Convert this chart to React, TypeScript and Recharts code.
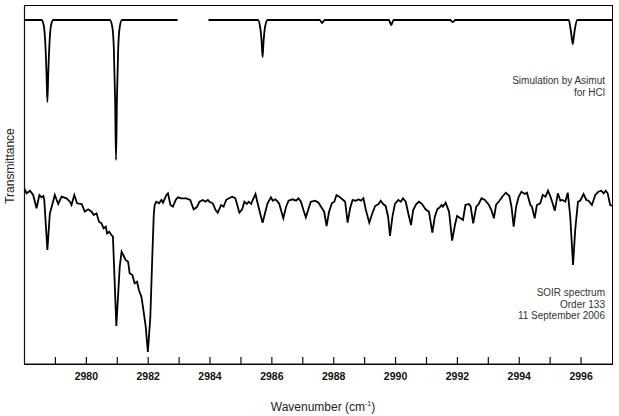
import React from "react";
import { LineChart, Line, XAxis, YAxis } from "recharts";

// Simulation by Asimut for HCl (relative transmittance, arbitrary units)
const simWavenumber = [
  2978.0, 2978.55, 2978.62, 2978.67, 2978.71, 2978.74, 2978.77, 2978.81, 2978.86, 2978.93,
  2980.76, 2980.84, 2980.89, 2980.93, 2980.96, 2980.99, 2981.03, 2981.08, 2981.15,
  2982.95, 2983.45, 2983.95,
  2985.55, 2985.62, 2985.67, 2985.7, 2985.73, 2985.78, 2985.86,
  2987.54, 2987.6, 2987.62, 2987.65, 2987.71,
  2989.78, 2989.83, 2989.86, 2989.89, 2989.94,
  2991.77, 2991.82, 2991.85, 2991.88, 2991.93,
  2995.6, 2995.66, 2995.7, 2995.73, 2995.76, 2995.8, 2995.88,
  2997.0,
];
const simTransmittance: (number | null)[] = [
  344, 344, 339, 322, 292, 262, 292, 322, 339, 344,
  344, 337, 315, 265, 204, 265, 315, 337, 344,
  344, null, 344,
  344, 337, 322, 307, 322, 337, 344,
  344, 342, 341, 342, 344,
  344, 341, 339, 341, 344,
  344, 342.5, 342, 342.5, 344,
  344, 335, 326, 320, 326, 335, 344,
  344,
];

// SOIR spectrum, Order 133, 11 September 2006
const soirWavenumber = [
  2978.0, 2978.07, 2978.18, 2978.28, 2978.39, 2978.48, 2978.55, 2978.61, 2978.64, 2978.74,
  2978.82, 2978.88, 2978.98, 2979.09, 2979.2, 2979.36, 2979.47, 2979.52, 2979.61, 2979.7,
  2979.85, 2979.95, 2980.06, 2980.17, 2980.24, 2980.33, 2980.41, 2980.49, 2980.56, 2980.63,
  2980.67, 2980.74, 2980.81, 2980.86, 2980.97, 2981.08, 2981.14, 2981.21, 2981.27, 2981.35,
  2981.4, 2981.49, 2981.56, 2981.64, 2981.7, 2981.78, 2981.83, 2981.92, 2981.99, 2982.07,
  2982.14, 2982.18, 2982.21, 2982.26, 2982.35, 2982.43, 2982.48, 2982.59, 2982.64, 2982.72,
  2982.8, 2982.89, 2982.96, 2983.07, 2983.23, 2983.36, 2983.47, 2983.57, 2983.66, 2983.77,
  2983.85, 2983.93, 2983.98, 2984.09, 2984.18, 2984.25, 2984.36, 2984.44, 2984.52, 2984.61,
  2984.72, 2984.82, 2984.95, 2985.04, 2985.11, 2985.19, 2985.25, 2985.33, 2985.38, 2985.47,
  2985.54, 2985.62, 2985.7, 2985.79, 2985.86, 2985.97, 2986.03, 2986.11, 2986.19, 2986.24,
  2986.37, 2986.46, 2986.54, 2986.67, 2986.78, 2986.86, 2986.94, 2987.02, 2987.1, 2987.19,
  2987.26, 2987.4, 2987.51, 2987.59, 2987.69, 2987.77, 2987.85, 2987.94, 2988.02, 2988.09,
  2988.18, 2988.28, 2988.37, 2988.45, 2988.53, 2988.61, 2988.72, 2988.8, 2988.88, 2988.96,
  2989.04, 2989.15, 2989.25, 2989.34, 2989.45, 2989.52, 2989.6, 2989.68, 2989.76, 2989.82,
  2989.9, 2989.98, 2990.09, 2990.17, 2990.24, 2990.33, 2990.41, 2990.5, 2990.57, 2990.67,
  2990.76, 2990.86, 2990.97, 2991.08, 2991.19, 2991.27, 2991.35, 2991.43, 2991.49, 2991.53,
  2991.62, 2991.73, 2991.83, 2991.92, 2991.99, 2992.1, 2992.18, 2992.26, 2992.37, 2992.43,
  2992.51, 2992.61, 2992.69, 2992.78, 2992.89, 2993.02, 2993.1, 2993.18, 2993.25, 2993.36,
  2993.47, 2993.57, 2993.68, 2993.75, 2993.82, 2993.9, 2993.98, 2994.07, 2994.18, 2994.25,
  2994.36, 2994.41, 2994.5, 2994.57, 2994.68, 2994.76, 2994.85, 2994.93, 2995.01, 2995.08,
  2995.15, 2995.25, 2995.33, 2995.4, 2995.49, 2995.57, 2995.65, 2995.74, 2995.81, 2995.9,
  2995.97, 2996.08, 2996.17, 2996.24, 2996.35, 2996.46, 2996.56, 2996.65, 2996.73, 2996.8,
  2996.86, 2996.94, 2997.0,
];
const soirTransmittance = [
  175, 170.7, 173.3, 169, 155.7, 169, 166.7, 168, 164, 114,
  150.7, 157.3, 169, 160, 167.3, 165.7, 162.3, 159, 169, 160.7,
  160, 152.3, 154.7, 152.3, 149, 150.7, 142.3, 140.7, 135.7, 137.3,
  130.7, 132.3, 129, 127.3, 38, 97.3, 112.3, 108, 104, 102.3,
  90.7, 89, 80.7, 82.3, 74, 67.3, 57.3, 37.3, 12, 47.3,
  114, 149, 159, 162.3, 160.7, 164, 161.3, 169, 170.7, 159,
  157.3, 164, 166.7, 165.7, 165.7, 164, 154.7, 156.7, 162.3, 164,
  162.3, 164, 162.3, 160.7, 154, 151.3, 159, 157.3, 164, 165.7,
  167.3, 165.7, 151.3, 154.7, 162.3, 160, 162.3, 160, 164, 170,
  160.7, 150.7, 141.3, 152.3, 160.7, 166.7, 163.3, 164.7, 162.3, 160,
  145.7, 157.3, 163.3, 164.7, 163.3, 165.7, 162.3, 154, 146.7, 155.7,
  162.3, 163.3, 161.3, 157.3, 152.3, 138, 152.3, 160.7, 162.3, 169,
  167.3, 164.7, 162.3, 141.3, 155.7, 164, 163.3, 164.7, 163.3, 165.7,
  154, 141.3, 150.7, 158, 160, 163.3, 160, 158, 147.3, 128,
  147.3, 160, 164, 162.3, 165.7, 162.3, 150.7, 139, 154, 160,
  162.3, 160, 154.7, 152.3, 131.3, 147.3, 154.7, 156.7, 159, 157.3,
  161.3, 152.3, 123.3, 139, 148, 145.7, 144, 159, 160, 157.3,
  140.7, 157.3, 160, 165.7, 164, 159, 154, 145.7, 159, 163.3,
  168, 171.3, 168, 157.3, 137.3, 157.3, 167, 172.3, 170, 171.3,
  159, 157.3, 145.7, 159, 160.7, 169, 167.3, 173.3, 167.3, 160.7,
  153.3, 170.7, 163.3, 164, 162.3, 171.3, 147.3, 99, 134, 162.3,
  163.3, 170, 164, 163.3, 159, 169, 172.3, 173.3, 170.7, 173.3,
  170.7, 159, 158,
];

const xTicks = [
  2979, 2980, 2981, 2982, 2983, 2984, 2985, 2986, 2987, 2988, 2989, 2990, 2991, 2992,
  2993, 2994, 2995, 2996,
];

const X_DOMAIN = [2978, 2997];
const Y_DOMAIN = [0, 358];

const simData = simWavenumber.map((w, i) => ({ w, t: simTransmittance[i] }));
const soirData = soirWavenumber.map((w, i) => ({ w, t: soirTransmittance[i] }));

const FONT = '"Liberation Sans", Arial, Helvetica, sans-serif';

const XTick = (props: any) => {
  const { x, y, payload } = props;
  const v = payload.value as number;
  return (
    <g>
      <line x1={x} x2={x} y1={y} y2={y - 7} stroke="#111" strokeWidth={1.2} />
      {v % 2 === 0 && (
        <text
          x={x}
          y={y + 16}
          textAnchor="middle"
          fontFamily={FONT}
          fontSize={10.5}
          fontWeight="bold"
          fill="#111"
        >
          {v}
        </text>
      )}
    </g>
  );
};

const noteStyle: React.CSSProperties = {
  position: "absolute",
  right: 619 - 605,
  textAlign: "right",
  fontFamily: FONT,
  fontSize: 10,
  lineHeight: "11.5px",
  color: "#333",
  whiteSpace: "nowrap",
};

export default function App() {
  return (
    <div
      style={{
        position: "absolute",
        left: 0,
        top: 0,
        width: 619,
        height: 416,
        background: "#fff",
      }}
    >
      {/* plot frame */}
      <div
        style={{
          position: "absolute",
          left: 24,
          top: 5,
          width: 589,
          height: 360,
          boxSizing: "border-box",
          border: "1.5px solid #000",
        }}
      />
      <div style={{ position: "absolute", left: 0, top: 0 }}>
        <LineChart
          width={619}
          height={416}
          margin={{ top: 6, right: 7, bottom: 51, left: 23.5 }}
        >
          <XAxis
            type="number"
            dataKey="w"
            domain={X_DOMAIN}
            allowDataOverflow
            orientation="bottom"
            height={1}
            ticks={xTicks}
            interval={0}
            tickSize={0}
            tickMargin={0}
            tickLine={false}
            tick={<XTick />}
            axisLine={{ stroke: "#111", strokeWidth: 1.2 }}
          />
          <YAxis
            type="number"
            domain={Y_DOMAIN}
            allowDataOverflow
            width={1}
            tick={false}
            tickLine={false}
            axisLine={{ stroke: "#111", strokeWidth: 1.2 }}
          />
          <Line
            data={simData}
            dataKey="t"
            type="monotone"
            stroke="#000"
            strokeWidth={1.8}
            dot={false}
            connectNulls={false}
            isAnimationActive={false}
          />
          <Line
            data={soirData}
            dataKey="t"
            type="linear"
            stroke="#000"
            strokeWidth={1.8}
            dot={false}
            isAnimationActive={false}
          />
        </LineChart>
      </div>

      <div
        style={{
          position: "absolute",
          left: 10,
          top: 166,
          transform: "translate(-50%, -50%) rotate(-90deg)",
          fontFamily: FONT,
          fontSize: 12,
          color: "#222",
          whiteSpace: "nowrap",
        }}
      >
        Transmittance
      </div>

      <div
        style={{
          position: "absolute",
          left: 323,
          top: 407,
          transform: "translate(-50%, -50%)",
          fontFamily: FONT,
          fontSize: 12,
          color: "#222",
          whiteSpace: "nowrap",
        }}
      >
        Wavenumber (cm<sup style={{ fontSize: 7, verticalAlign: "5px" }}>-1</sup>)
      </div>

      <div style={{ ...noteStyle, top: 75 }}>
        Simulation by Asimut
        <br />
        for HCl
      </div>

      <div style={{ ...noteStyle, top: 287 }}>
        SOIR spectrum
        <br />
        Order 133
        <br />
        11 September 2006
      </div>
    </div>
  );
}
